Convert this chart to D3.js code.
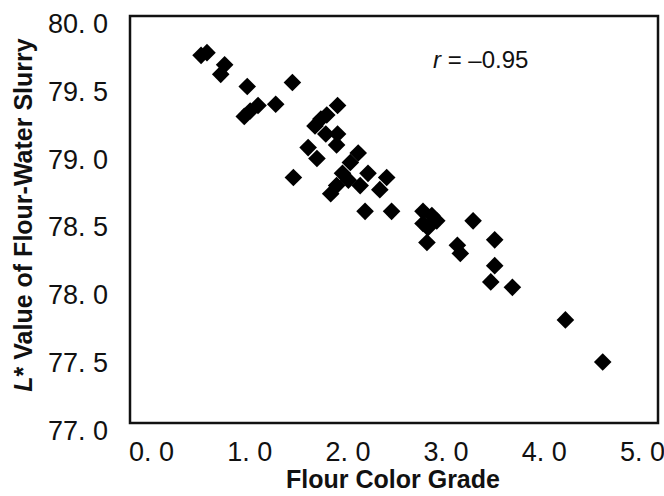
<!DOCTYPE html>
<html>
<head>
<meta charset="utf-8">
<script src="https://cdn.jsdelivr.net/npm/d3@7"></script>
<style>
  body { margin: 0; background: #fff; }
  text { font-family: "Liberation Sans", Arial, sans-serif; fill: #111; }
</style>
</head>
<body>
<div class="canvas"></div>
<script>
// flour color grade (x) and L* of flour-water slurry (y)
const grade = [
    0.51, 0.57, 0.75, 0.71, 0.98, 1.44, 0.95, 1.01, 1.09, 1.27,
    1.90, 1.79, 1.73, 1.67, 1.78, 1.90, 1.89, 1.60, 1.69, 1.45,
    2.11, 2.03, 1.95, 2.01, 2.21, 2.13, 2.40, 2.33, 1.83, 1.89,
    2.18, 2.45, 2.77, 2.86, 2.77, 2.91, 2.82, 3.28, 2.81, 3.12,
    3.15, 3.50, 3.50, 3.46, 3.68, 4.22, 4.60
];
const lValue = [
    79.71, 79.73, 79.64, 79.57, 79.48, 79.51, 79.26, 79.30, 79.34, 79.35,
    79.34, 79.27, 79.24, 79.19, 79.13, 79.13, 79.05, 79.03, 78.95, 78.81,
    78.99, 78.92, 78.84, 78.79, 78.84, 78.75, 78.81, 78.72, 78.69, 78.75,
    78.56, 78.56, 78.56, 78.53, 78.47, 78.49, 78.44, 78.49, 78.33, 78.31,
    78.25, 78.35, 78.16, 78.04, 78.00, 77.76, 77.45
];
const xTicks = [0, 1, 2, 3, 4, 5];
const yTicks = [77, 77.5, 78, 78.5, 79, 79.5, 80];

const dims = { width: 664, height: 496 };
const frame = { left: 130, right: 658, top: 16, bottom: 423 };

const svg = d3.select('.canvas')
    .append('svg')
    .attr('width', dims.width)
    .attr('height', dims.height)
;

const x = d3.scaleLinear().domain([0, 5]).range([151, 642]);
const y = d3.scaleLinear().domain([77, 80]).range([frame.bottom, frame.top]);

const fmt = d => d.toFixed(1).replace('.', '. ');

// y axis labels
const yAxis = svg.append('g')
    .attr('transform', `translate(${frame.left}, 0)`)
    .call(d3.axisLeft(y).tickValues(yTicks).tickSize(0).tickPadding(22).tickFormat(fmt));
yAxis.select('.domain').remove();
yAxis.selectAll('text')
    .attr('font-size', 27)
    .attr('font-family', '"Liberation Sans", Arial, sans-serif')
    .attr('fill', '#111')
    .attr('dy', '0.35em')
    .attr('y', 7);

// x axis labels
const xAxis = svg.append('g')
    .attr('transform', `translate(0, ${frame.bottom})`)
    .call(d3.axisBottom(x).tickValues(xTicks).tickSize(0).tickPadding(19).tickFormat(fmt));
xAxis.select('.domain').remove();
xAxis.selectAll('text')
    .attr('font-size', 27)
    .attr('font-family', '"Liberation Sans", Arial, sans-serif')
    .attr('fill', '#111');

// frame
svg.append('rect')
    .attr('x', frame.left)
    .attr('y', frame.top)
    .attr('width', frame.right - frame.left)
    .attr('height', frame.bottom - frame.top)
    .attr('fill', 'none')
    .attr('stroke', '#111')
    .attr('stroke-width', 2.5);

// points
const diamond = d3.symbol().type(d3.symbolSquare).size(155);
svg.append('g')
    .selectAll('path')
    .data(grade.map((g, i) => ({ g, l: lValue[i] })))
    .enter()
    .append('path')
        .attr('d', diamond)
        .attr('transform', d => `translate(${x(d.g)}, ${y(d.l)}) rotate(45)`)
        .attr('fill', '#000')
;

// axis titles
svg.append('text')
    .attr('x', 393)
    .attr('y', 488)
    .attr('text-anchor', 'middle')
    .attr('font-size', 25)
    .attr('font-weight', 'bold')
    .text('Flour Color Grade');

const yTitle = svg.append('text')
    .attr('transform', 'translate(32, 215) rotate(-90)')
    .attr('text-anchor', 'middle')
    .attr('font-size', 25)
    .attr('font-weight', 'bold');
yTitle.append('tspan').attr('font-style', 'italic').text('L');
yTitle.append('tspan').text('* Value of Flour-Water Slurry');

// correlation note
const note = svg.append('text')
    .attr('x', 433)
    .attr('y', 68)
    .attr('font-size', 24);
note.append('tspan').attr('font-style', 'italic').text('r');
note.append('tspan').text(' = \u20130.95');
</script>
</body>
</html>
